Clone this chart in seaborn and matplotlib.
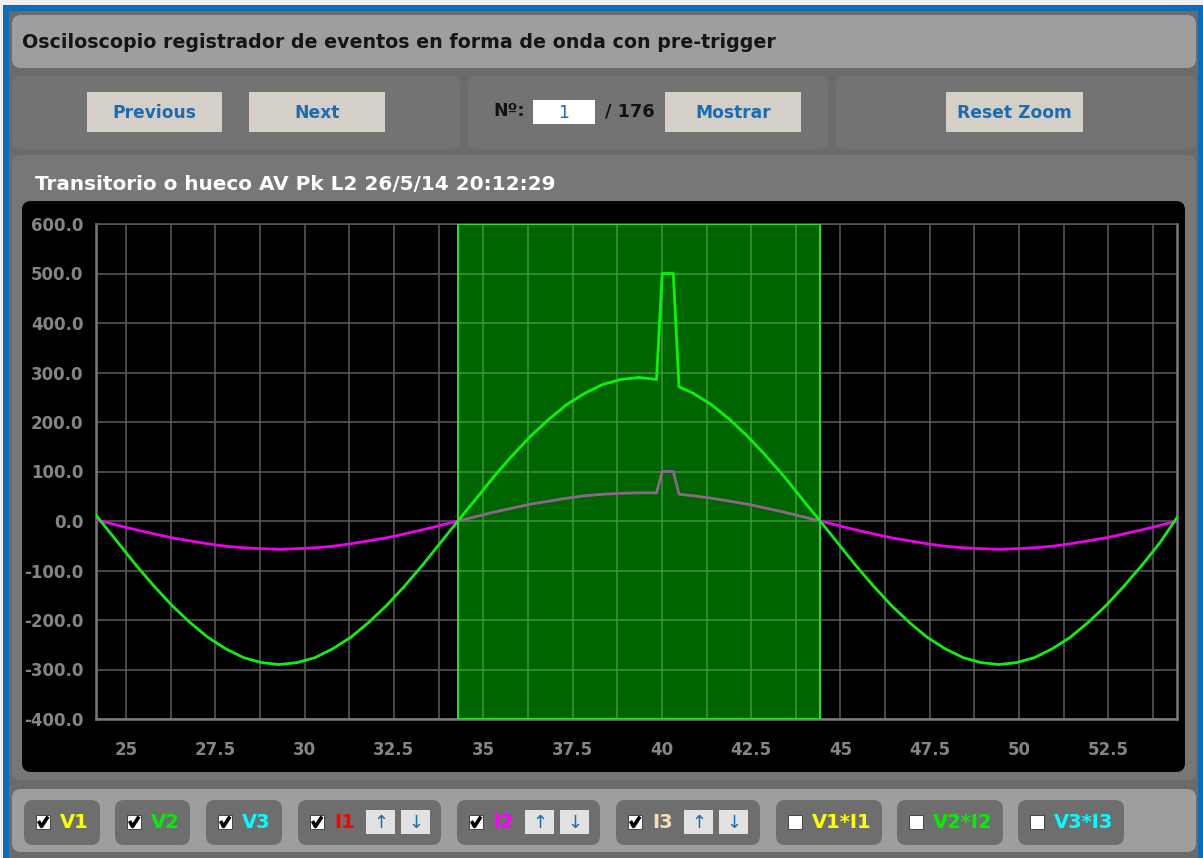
import matplotlib
matplotlib.use("Agg")
import matplotlib.pyplot as plt
from matplotlib.patches import FancyBboxPatch, Rectangle
import numpy as np
import pandas as pd
import seaborn as sns

# ---------------- data ----------------
time_ms = [24.16, 24.29, 24.79, 25.29, 25.79, 26.29, 26.79, 27.29, 27.79, 28.29, 28.79,
           29.29, 29.79, 30.29, 30.79, 31.29, 31.79, 32.29, 32.79, 33.29, 33.79, 34.29,
           34.80, 35.30, 35.81, 36.32, 36.83, 37.33, 37.84, 38.35, 38.85, 39.36,
           39.85, 40.01, 40.32, 40.48,
           40.88, 41.39, 41.90, 42.40, 42.91, 43.42, 43.92, 44.43,
           44.93, 45.43, 45.93, 46.43, 46.93, 47.43, 47.93, 48.43, 48.93, 49.43,
           49.93, 50.43, 50.93, 51.43, 51.93, 52.43, 52.93, 53.43, 53.93, 54.43]

v2_values = [12, 0, -45, -90, -132, -171, -205, -235, -258, -276, -286,
             -290, -286, -276, -258, -235, -205, -171, -132, -90, -45, 0,
             45, 90, 132, 171, 205, 235, 258, 276, 286, 290,
             286, 500, 500, 271,
             258, 235, 205, 171, 132, 90, 45, 0,
             -45, -90, -132, -171, -205, -235, -258, -276, -286, -290,
             -286, -276, -258, -235, -205, -171, -132, -90, -45, 8]

i2_values = [1, 0, -9, -18, -26, -34, -40, -46, -51, -54, -56,
             -57, -56, -54, -51, -46, -40, -34, -26, -18, -9, 0,
             9, 18, 26, 34, 40, 46, 51, 54, 56, 57,
             57, 100, 100, 54,
             51, 46, 40, 34, 26, 18, 9, 0,
             -9, -18, -26, -34, -40, -46, -51, -54, -56, -57,
             -56, -54, -51, -46, -40, -34, -26, -18, -9, 0]

event_start = 34.29
event_end = 44.43
x_limits = (24.16, 54.42)
y_limits = (-400, 600)
y_ticks = [-400, -300, -200, -100, 0, 100, 200, 300, 400, 500, 600]
x_ticks = [25, 27.5, 30, 32.5, 35, 37.5, 40, 42.5, 45, 47.5, 50, 52.5]
x_tick_labels = ["25", "27.5", "30", "32.5", "35", "37.5", "40", "42.5", "45", "47.5", "50", "52.5"]
x_minor_step = 1.25

page_title = "Osciloscopio registrador de eventos en forma de onda con pre-trigger"
chart_title = "Transitorio o hueco AV Pk L2 26/5/14 20:12:29"
event_number = "1"
event_total = "/ 176"

channels = ["V1", "V2", "V3", "I1", "I2", "I3", "V1*I1", "V2*I2", "V3*I3"]
channel_colors = ["#ffff00", "#00f000", "#00ffff", "#ff0000", "#ff00ff", "#f5deb3",
                  "#ffff00", "#00f000", "#00ffff"]
channel_checked = [True, True, True, True, True, True, False, False, False]
channel_arrows = [False, False, False, True, True, True, False, False, False]

# ---------------- figure & page chrome ----------------
W, H = 1203, 858
fig = plt.figure(figsize=(W / 100, H / 100), dpi=100, facecolor="#f0f0f0")
bg = fig.add_axes([0, 0, 1, 1])
bg.set_xlim(0, W)
bg.set_ylim(H, 0)
bg.axis("off")
bg.set_zorder(0)

SANS = "DejaVu Sans"
BLUE_TXT = "#1c6cb4"


def rbox(x0, y0, x1, y1, color, r=8, z=1, ec="none"):
    p = FancyBboxPatch((x0, y0), x1 - x0, y1 - y0,
                       boxstyle=f"round,pad=0,rounding_size={r}",
                       fc=color, ec=ec, lw=0, zorder=z)
    bg.add_patch(p)


def rect(x0, y0, x1, y1, color, z=1, ec="none", lw=0):
    bg.add_patch(Rectangle((x0, y0), x1 - x0, y1 - y0, fc=color, ec=ec, lw=lw, zorder=z))


# blue frame and grey page
rect(3, 5, W, H + 5, "#0b6cb8", z=0.5)
rect(9, 11, 1198, H + 5, "#6b6b6b", z=0.6)

# header bar
rbox(12, 15, 1196, 68, "#9e9e9e", r=9)
bg.text(22, 43, page_title, fontsize=13.7, family=SANS, weight="bold", color="#151515",
        va="center", ha="left", zorder=3)

# control row panels
rbox(12, 76, 460, 149, "#737373", r=9)
rbox(468, 76, 828, 149, "#737373", r=9)
rbox(836, 76, 1196, 149, "#737373", r=9)


def button(x0, x1, label):
    rect(x0, 92, x1, 132, "#d4d0c8", z=2)
    bg.text((x0 + x1) / 2, 112.5, label, fontsize=12.3, family=SANS, weight="bold",
            color=BLUE_TXT, ha="center", va="center", zorder=3)


button(87, 222, "Previous")
button(249, 385, "Next")
button(665, 801, "Mostrar")
button(946, 1083, "Reset Zoom")
bg.text(493, 111, "Nº:", fontsize=12.5, family=SANS, weight="bold", color="#111111",
        ha="left", va="center", zorder=3)
rect(533, 100, 595, 124, "#ffffff", z=2)
bg.text(564, 112.5, event_number, fontsize=12.5, family=SANS, color=BLUE_TXT,
        ha="center", va="center", zorder=3)
bg.text(605, 111, event_total, fontsize=12.8, family=SANS, weight="bold", color="#111111",
        ha="left", va="center", zorder=3)

# chart panel
rbox(12, 155, 1196, 780, "#777777", r=9)
bg.text(35, 184, chart_title, fontsize=14.4, family=SANS, weight="bold", color="#ffffff",
        ha="left", va="center", zorder=3)
rbox(22, 201, 1185, 772, "#000000", r=9, z=2)

# bottom channel bar
rbox(12, 789, 1196, 852, "#9e9e9e", r=9)
pill_x = [(24, 100), (115, 190), (206, 282), (298, 441), (457, 600), (616, 760),
          (776, 882), (897, 1003), (1018, 1124)]
for (x0, x1), name, col, chk, arr in zip(pill_x, channels, channel_colors,
                                         channel_checked, channel_arrows):
    rbox(x0, 800, x1, 845, "#6e6e6e", r=9, z=2)
    cx = x0 + 12
    rect(cx, 815, cx + 14, 829, "#ffffff", z=3, ec="#333333", lw=0.6)
    if chk:
        bg.plot([cx + 2.5, cx + 5.5, cx + 12], [821, 826.5, 816.5], color="#000000",
                lw=2.6, zorder=4, solid_capstyle="butt")
    bg.text(cx + 24, 822.5, name, fontsize=14, family=SANS, weight="bold", color=col,
            ha="left", va="center", zorder=4)
    if arr:
        for ax0, glyph in ((x0 + 68, "↑"), (x0 + 103, "↓")):
            rect(ax0, 810, ax0 + 29, 834, "#e2e2e2", z=3)
            bg.text(ax0 + 14.5, 822.5, glyph, fontsize=13, family=SANS,
                    color=BLUE_TXT, ha="center", va="center", zorder=4)

# ---------------- chart ----------------
px_l, px_r, px_t, px_b = 96, 1177, 224, 719
ax = fig.add_axes([px_l / W, 1 - px_b / H, (px_r - px_l) / W, (px_b - px_t) / H])
ax.set_zorder(5)
ax.set_facecolor("#000000")

df = pd.DataFrame({"t": time_ms, "V2": v2_values, "I2": i2_values})
sns.lineplot(data=df, x="t", y="I2", ax=ax, color="#ee00ee", linewidth=2.0,
             estimator=None, sort=False, zorder=3)
sns.lineplot(data=df, x="t", y="V2", ax=ax, color="#11ee11", linewidth=2.0,
             estimator=None, sort=False, zorder=4)

ax.axvspan(event_start, event_end, facecolor=(0.0, 1.0, 0.0, 0.4),
           edgecolor="#33dd33", linewidth=1.4, zorder=6)

ax.set_xlim(*x_limits)
ax.set_ylim(*y_limits)
ax.set_xticks(x_ticks)
ax.set_xticklabels(x_tick_labels)
ax.set_yticks(y_ticks)
ax.set_yticklabels([f"{v:.1f}" for v in y_ticks])
minor = np.arange(25, x_limits[1], x_minor_step)
ax.set_xticks(minor, minor=True)
ax.grid(True, which="both", axis="x", color="#5c5c5c", linewidth=1.1, zorder=1)
ax.grid(True, which="major", axis="y", color="#5c5c5c", linewidth=1.1, zorder=1)
ax.set_axisbelow(True)
ax.tick_params(axis="both", which="both", length=0)
ax.tick_params(axis="y", pad=9)
ax.tick_params(axis="x", pad=16)
for lab in ax.get_xticklabels() + ax.get_yticklabels():
    lab.set_fontfamily(SANS)
    lab.set_fontweight("bold")
    lab.set_fontsize(12)
    lab.set_color("#858585")
ax.set_xlabel("")
ax.set_ylabel("")
for side in ("left", "bottom", "right"):
    ax.spines[side].set_color("#7a7a7a")
    ax.spines[side].set_linewidth(1.8)
ax.spines["top"].set_color("#5c5c5c")
ax.spines["top"].set_linewidth(1.1)

fig.savefig("out.png", dpi=100, facecolor=fig.get_facecolor())
